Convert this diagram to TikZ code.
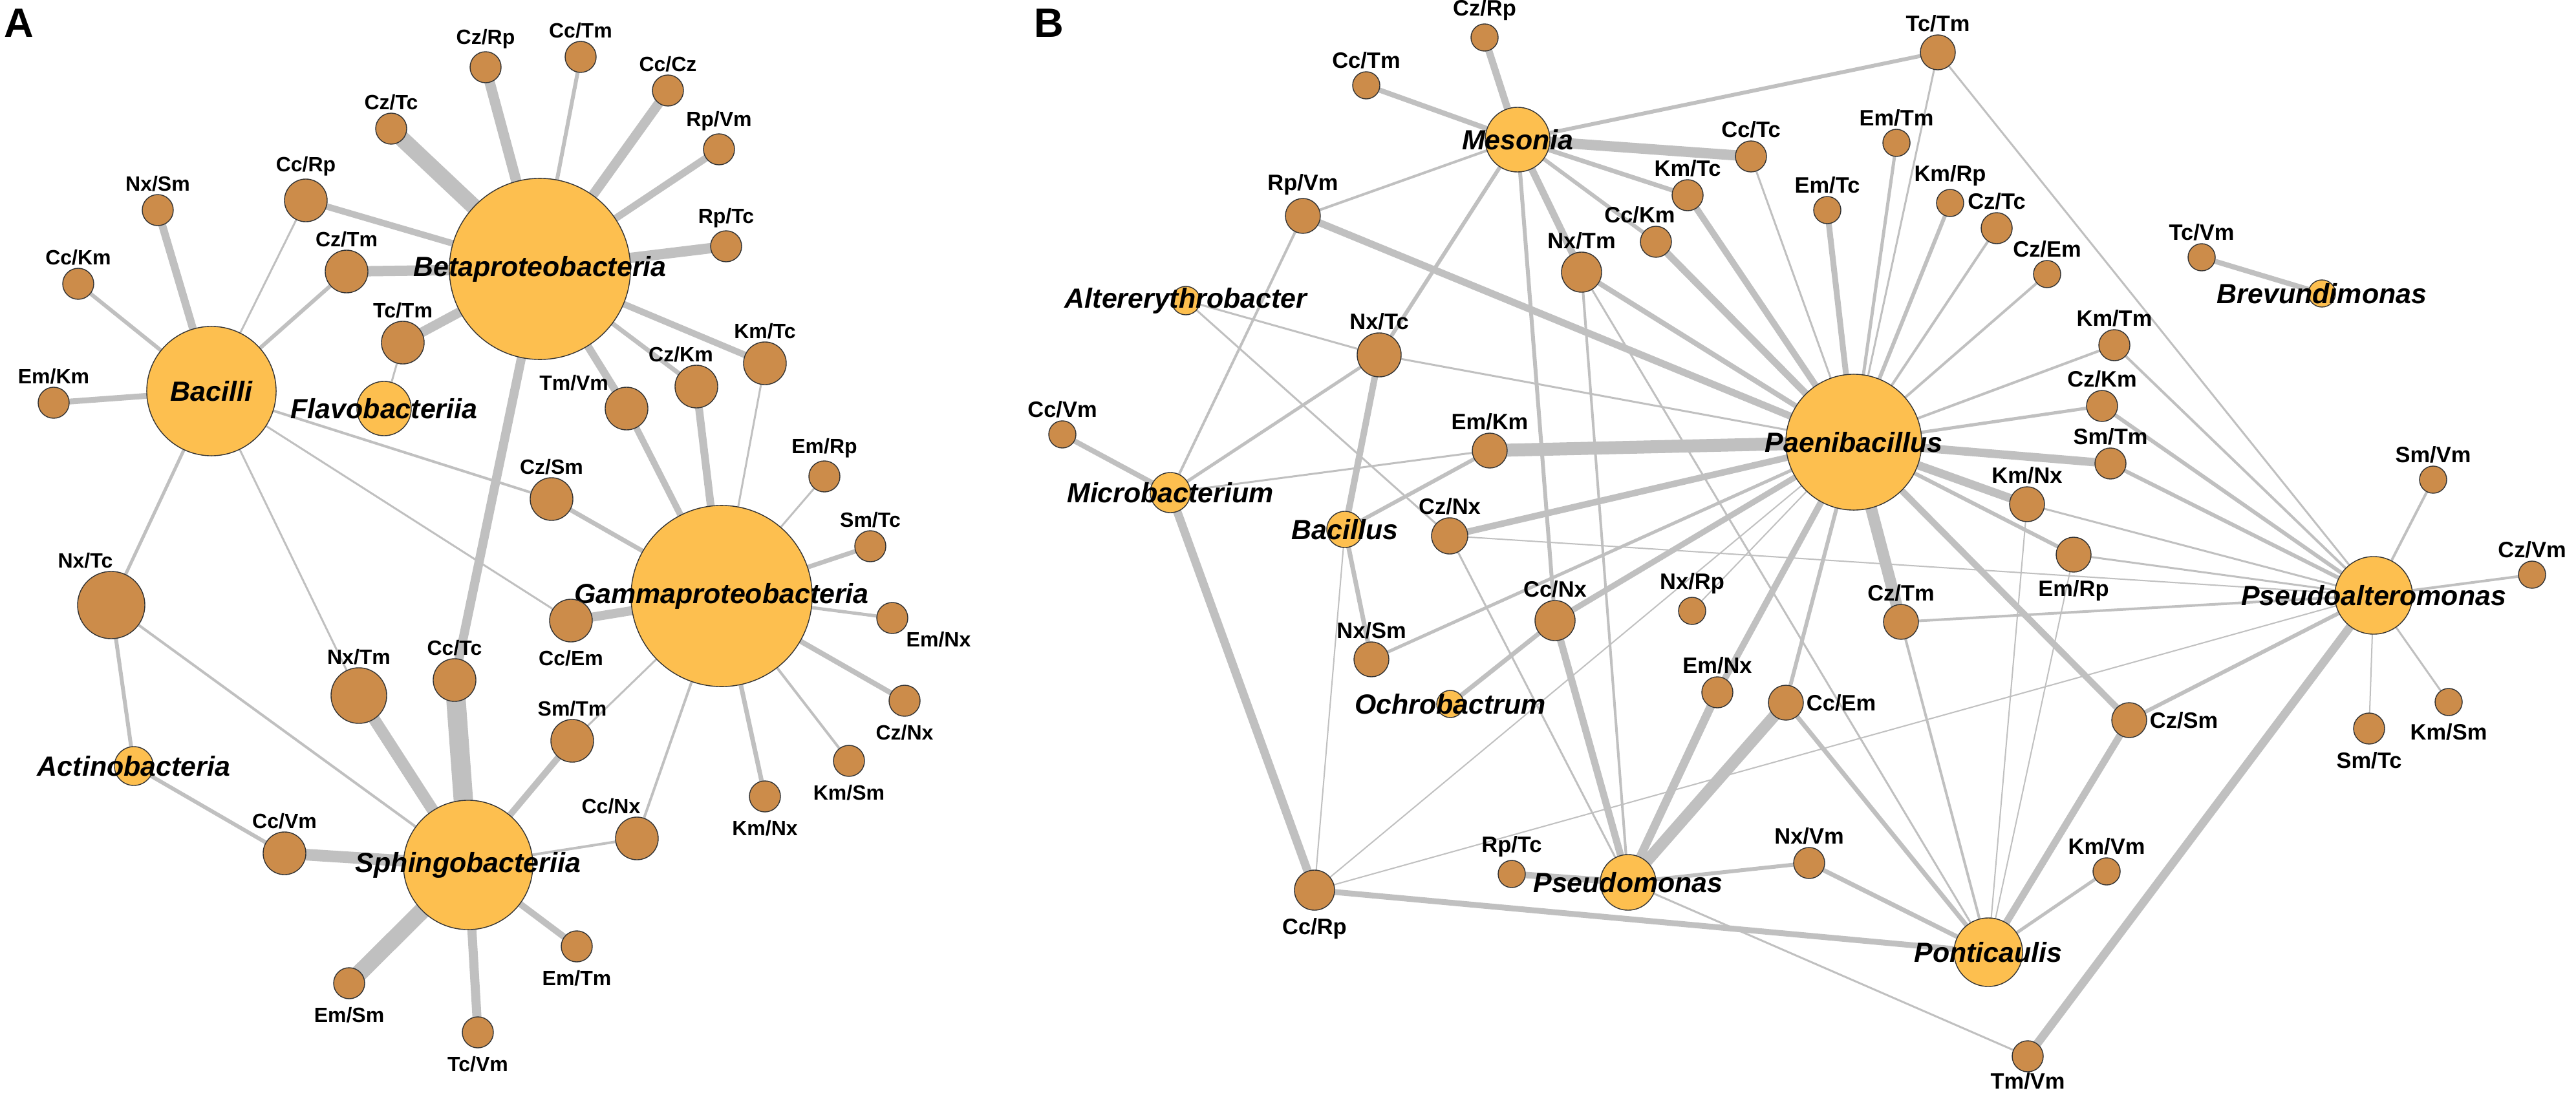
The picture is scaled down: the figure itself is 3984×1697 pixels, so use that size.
\documentclass[tikz,border=0pt]{standalone}
\usepackage{fontspec}
\setmainfont{Liberation Sans}
\usetikzlibrary{shapes,positioning}
\definecolor{taxfill}{RGB}{253,191,79}
\definecolor{pairfill}{RGB}{204,140,74}
\definecolor{linkgray}{RGB}{192,192,192}
\pgfdeclarelayer{edges}
\pgfsetlayers{edges,main}

\begin{document}
\begin{tikzpicture}[x=0.01cm,y=-0.01cm,
  tax/.style={circle,draw=black!80,line width=0.4pt,fill=taxfill,inner sep=0pt,minimum size=#1*0.2mm},
  pair/.style={circle,draw=black!80,line width=0.4pt,fill=pairfill,inner sep=0pt,minimum size=#1*0.2mm},
  tname/.style={font=\fontsize{12.2}{14}\selectfont\bfseries\itshape,inner sep=0pt},
  plA/.style={font=\fontsize{9.1}{11}\selectfont\bfseries,inner sep=1pt},
  plB/.style={font=\fontsize{9.8}{11}\selectfont\bfseries,inner sep=1pt},
  plAd/.style={plA,label distance=0.8mm},
  plBd/.style={plB,label distance=0.8mm},
  link/.style={draw=linkgray,line width=#1*0.1mm},
  panel/.style={font=\fontsize{18}{20}\selectfont\bfseries}]
  \useasboundingbox (0,0) rectangle (3984,1697);
  \node[panel] (lblA) at (29,36) {A};
  \node[panel] (lblB) at (1622,36) {B};

  \node[tax=140,label={[tname]center:Betaproteobacteria}] (aBeta) at (835,416) {};
  \node[tax=140,label={[tname]center:Gammaproteobacteria}] (aGamma) at (1116,922) {};
  \node[tax=100,label={[tname]center:Bacilli}] (aBacilli) at (327,605) {};
  \node[tax=100,label={[tname]center:Sphingobacteriia}] (aSphingo) at (724,1338) {};
  \node[tax=42,label={[tname]center:Flavobacteriia}] (aFlavo) at (594,632) {};
  \node[tax=30,label={[tname]center:Actinobacteria}] (aActino) at (207,1185) {};

  \node[pair=24,label={[plA]above:Cz/Rp}] (aCzRp) at (751,104) {};
  \node[pair=24,label={[plA]above:Cc/Tm}] (aCcTm) at (898,88) {};
  \node[pair=24,label={[plA]above:Cc/Cz}] (aCcCz) at (1033,140) {};
  \node[pair=24,label={[plA]above:Rp/Vm}] (aRpVm) at (1112,231) {};
  \node[pair=24,label={[plA]above:Rp/Tc}] (aRpTc) at (1123,381) {};
  \node[pair=24,label={[plA]above:Cz/Tc}] (aCzTc) at (605,199) {};
  \node[pair=33,label={[plA]above:Cc/Rp}] (aCcRp) at (473,310) {};
  \node[pair=24,label={[plA]above:Nx/Sm}] (aNxSm) at (244,325) {};
  \node[pair=24,label={[plA]above:Cc/Km}] (aCcKm) at (121,439) {};
  \node[pair=33,label={[plA]above:Cz/Tm}] (aCzTm) at (536,420) {};
  \node[pair=33,label={[plA]above:Tc/Tm}] (aTcTm) at (623,530) {};
  \node[pair=24,label={[plA]above:Em/Km}] (aEmKm) at (83,623) {};
  \node[pair=33,label={[plA]above left:Tm/Vm}] (aTmVm) at (969,632) {};
  \node[pair=33,label={[plA]above:Km/Tc}] (aKmTc) at (1183,562) {};
  \node[pair=33,label={[plA,xshift=-2.4mm]above:Cz/Km}] (aCzKm) at (1077,598) {};
  \node[pair=33,label={[plA]above:Cz/Sm}] (aCzSm) at (853,772) {};
  \node[pair=24,label={[plA]above:Em/Rp}] (aEmRp) at (1275,737) {};
  \node[pair=24,label={[plA]above:Sm/Tc}] (aSmTc) at (1346,845) {};
  \node[pair=52,label={[plA,xshift=-4mm]above:Nx/Tc}] (aNxTc) at (172,936) {};
  \node[pair=43,label={[plA]above:Nx/Tm}] (aNxTm) at (555,1076) {};
  \node[pair=33,label={[plA]above:Cc/Tc}] (aCcTc) at (703,1052) {};
  \node[pair=33,label={[plAd]below:Cc/Em}] (aCcEm) at (883,960) {};
  \node[pair=33,label={[plA]above:Sm/Tm}] (aSmTm) at (885,1146) {};
  \node[pair=33,label={[plA]above:Cc/Vm}] (aCcVm) at (440,1320) {};
  \node[pair=33,label={[plA,xshift=-4mm]above:Cc/Nx}] (aCcNx) at (985,1297) {};
  \node[pair=24,label={[plAd]below:Em/Sm}] (aEmSm) at (540,1521) {};
  \node[pair=24,label={[plAd]below:Tc/Vm}] (aTcVm) at (739,1597) {};
  \node[pair=24,label={[plAd]below:Em/Tm}] (aEmTm) at (892,1464) {};
  \node[pair=24,label={[plA]below right:Em/Nx}] (aEmNx) at (1380,956) {};
  \node[pair=24,label={[plAd]below:Cz/Nx}] (aCzNx) at (1399,1084) {};
  \node[pair=24,label={[plAd]below:Km/Sm}] (aKmSm) at (1313,1177) {};
  \node[pair=24,label={[plAd]below:Km/Nx}] (aKmNx) at (1183,1232) {};

  \node[tax=50,label={[tname]center:Mesonia}] (bMes) at (2347,216) {};
  \node[tax=105,label={[tname]center:Paenibacillus}] (bPae) at (2867,684) {};
  \node[tax=60,label={[tname]center:Pseudoalteromonas}] (bPsa) at (3671,921) {};
  \node[tax=53,label={[tname]center:Ponticaulis}] (bPon) at (3075,1473) {};
  \node[tax=43,label={[tname]center:Pseudomonas}] (bPsm) at (2518,1365) {};
  \node[tax=31,label={[tname]center:Microbacterium}] (bMic) at (1810,762) {};
  \node[tax=28,label={[tname]center:Bacillus}] (bBac) at (2080,819) {};
  \node[tax=22,label={[tname]center:Altererythrobacter}] (bAlt) at (1834,465) {};
  \node[tax=21,label={[tname]center:Ochrobactrum}] (bOch) at (2243,1089) {};
  \node[tax=21,label={[tname]center:Brevundimonas}] (bBre) at (3591,454) {};

  \node[pair=21,label={[plB]above:Cz/Rp}] (bCzRp) at (2296,58) {};
  \node[pair=21,label={[plB]above:Cc/Tm}] (bCcTm) at (2113,132) {};
  \node[pair=27,label={[plB]above:Rp/Vm}] (bRpVm) at (2015,334) {};
  \node[pair=34,label={[plB]above:Nx/Tc}] (bNxTc) at (2133,549) {};
  \node[pair=21,label={[plB]above:Cc/Vm}] (bCcVm) at (1643,672) {};
  \node[pair=27,label={[plB]above:Em/Km}] (bEmKm) at (2304,697) {};
  \node[pair=28,label={[plB]above:Cz/Nx}] (bCzNx) at (2242,829) {};
  \node[pair=27,label={[plB]above:Nx/Sm}] (bNxSm) at (2121,1020) {};
  \node[pair=31,label={[plB]above:Cc/Nx}] (bCcNx) at (2405,960) {};
  \node[pair=31,label={[plBd]below:Cc/Rp}] (bCcRp) at (2033,1377) {};
  \node[pair=21,label={[plB]above:Rp/Tc}] (bRpTc) at (2338,1352) {};
  \node[pair=27,label={[plB]above:Tc/Tm}] (bTcTm) at (2997,81) {};
  \node[pair=24,label={[plB]above:Cc/Tc}] (bCcTc) at (2708,242) {};
  \node[pair=24,label={[plB]above:Km/Tc}] (bKmTc) at (2610,302) {};
  \node[pair=21,label={[plB]above:Em/Tm}] (bEmTm) at (2933,221) {};
  \node[pair=21,label={[plB]above:Em/Tc}] (bEmTc) at (2826,325) {};
  \node[pair=21,label={[plB]above:Km/Rp}] (bKmRp) at (3016,314) {};
  \node[pair=24,label={[plB]above:Cz/Tc}] (bCzTc) at (3088,353) {};
  \node[pair=21,label={[plB]above:Cz/Em}] (bCzEm) at (3166,424) {};
  \node[pair=24,label={[plB,xshift=-2.5mm]above:Cc/Km}] (bCcKm) at (2561,374) {};
  \node[pair=31,label={[plB]above:Nx/Tm}] (bNxTm) at (2446,421) {};
  \node[pair=27,label={[plB]above:Km/Nx}] (bKmNx) at (3135,780) {};
  \node[pair=21,label={[plB]above:Tc/Vm}] (bTcVm) at (3405,398) {};
  \node[pair=24,label={[plB]above:Km/Tm}] (bKmTm) at (3270,534) {};
  \node[pair=24,label={[plB]above:Cz/Km}] (bCzKm) at (3251,628) {};
  \node[pair=24,label={[plB]above:Sm/Tm}] (bSmTm) at (3264,717) {};
  \node[pair=21,label={[plB]above:Sm/Vm}] (bSmVm) at (3763,742) {};
  \node[pair=27,label={[plBd]below:Em/Rp}] (bEmRp) at (3207,858) {};
  \node[pair=21,label={[plB]above:Nx/Rp}] (bNxRp) at (2617,945) {};
  \node[pair=27,label={[plB]above:Cz/Tm}] (bCzTm) at (2940,962) {};
  \node[pair=24,label={[plB]above:Em/Nx}] (bEmNx) at (2656,1071) {};
  \node[pair=27,label={[plB]right:Cc/Em}] (bCcEm) at (2762,1087) {};
  \node[pair=24,label={[plB]above:Nx/Vm}] (bNxVm) at (2798,1335) {};
  \node[pair=24,label={[plB,label distance=-0.3mm]below:Tm/Vm}] (bTmVm) at (3136,1634) {};
  \node[pair=21,label={[plB]above:Km/Vm}] (bKmVm) at (3258,1348) {};
  \node[pair=21,label={[plB]above:Cz/Vm}] (bCzVm) at (3916,889) {};
  \node[pair=27,label={[plB]right:Cz/Sm}] (bCzSm) at (3293,1114) {};
  \node[pair=24,label={[plBd]below:Sm/Tc}] (bSmTc) at (3664,1127) {};
  \node[pair=21,label={[plBd]below:Km/Sm}] (bKmSm) at (3787,1086) {};

  \begin{pgfonlayer}{edges}
  \fill[white] (0,0) rectangle (3984,1697);
  \draw[link=16] (aBeta.center) -- (aCzRp.center);
  \draw[link=6] (aBeta.center) -- (aCcTm.center);
  \draw[link=15] (aBeta.center) -- (aCcCz.center);
  \draw[link=11] (aBeta.center) -- (aRpVm.center);
  \draw[link=16] (aBeta.center) -- (aRpTc.center);
  \draw[link=25] (aBeta.center) -- (aCzTc.center);
  \draw[link=10] (aBeta.center) -- (aCcRp.center);
  \draw[link=16] (aBeta.center) -- (aCzTm.center);
  \draw[link=15] (aBeta.center) -- (aTcTm.center);
  \draw[link=10] (aBeta.center) -- (aKmTc.center);
  \draw[link=7] (aBeta.center) -- (aCzKm.center);
  \draw[link=12] (aBeta.center) -- (aTmVm.center);
  \draw[link=14] (aBeta.center) -- (aCcTc.center);
  \draw[link=12] (aBacilli.center) -- (aNxSm.center);
  \draw[link=6] (aBacilli.center) -- (aCcKm.center);
  \draw[link=9] (aBacilli.center) -- (aEmKm.center);
  \draw[link=3] (aBacilli.center) -- (aCcRp.center);
  \draw[link=6] (aBacilli.center) -- (aCzTm.center);
  \draw[link=4] (aBacilli.center) -- (aCzSm.center);
  \draw[link=3] (aBacilli.center) -- (aCcEm.center);
  \draw[link=3] (aBacilli.center) -- (aNxTm.center);
  \draw[link=5] (aBacilli.center) -- (aNxTc.center);
  \draw[link=3] (aFlavo.center) -- (aTcTm.center);
  \draw[link=6] (aActino.center) -- (aNxTc.center);
  \draw[link=6] (aActino.center) -- (aCcVm.center);
  \draw[link=4] (aSphingo.center) -- (aNxTc.center);
  \draw[link=18] (aSphingo.center) -- (aCcVm.center);
  \draw[link=18] (aSphingo.center) -- (aNxTm.center);
  \draw[link=30] (aSphingo.center) -- (aCcTc.center);
  \draw[link=10] (aSphingo.center) -- (aSmTm.center);
  \draw[link=4] (aSphingo.center) -- (aCcNx.center);
  \draw[link=26] (aSphingo.center) -- (aEmSm.center);
  \draw[link=14] (aSphingo.center) -- (aTcVm.center);
  \draw[link=10] (aSphingo.center) -- (aEmTm.center);
  \draw[link=7] (aGamma.center) -- (aCzSm.center);
  \draw[link=14] (aGamma.center) -- (aCcEm.center);
  \draw[link=10] (aGamma.center) -- (aTmVm.center);
  \draw[link=12] (aGamma.center) -- (aCzKm.center);
  \draw[link=3] (aGamma.center) -- (aKmTc.center);
  \draw[link=3] (aGamma.center) -- (aEmRp.center);
  \draw[link=7] (aGamma.center) -- (aSmTc.center);
  \draw[link=5] (aGamma.center) -- (aEmNx.center);
  \draw[link=8] (aGamma.center) -- (aCzNx.center);
  \draw[link=4] (aGamma.center) -- (aKmSm.center);
  \draw[link=7] (aGamma.center) -- (aKmNx.center);
  \draw[link=4] (aGamma.center) -- (aCcNx.center);
  \draw[link=3] (aGamma.center) -- (aSmTm.center);

  \draw[link=11] (bMes.center) -- (bCzRp.center);
  \draw[link=8] (bMes.center) -- (bCcTm.center);
  \draw[link=4] (bMes.center) -- (bRpVm.center);
  \draw[link=6] (bMes.center) -- (bNxTc.center);
  \draw[link=6] (bMes.center) -- (bCcNx.center);
  \draw[link=11] (bMes.center) -- (bNxTm.center);
  \draw[link=6] (bMes.center) -- (bTcTm.center);
  \draw[link=16] (bMes.center) -- (bCcTc.center);
  \draw[link=7] (bMes.center) -- (bKmTc.center);
  \draw[link=6] (bMes.center) -- (bCcKm.center);
  \draw[link=11] (bPae.center) -- (bRpVm.center);
  \draw[link=3] (bPae.center) -- (bNxTc.center);
  \draw[link=20] (bPae.center) -- (bEmKm.center);
  \draw[link=10] (bPae.center) -- (bCzNx.center);
  \draw[link=5] (bPae.center) -- (bNxSm.center);
  \draw[link=9] (bPae.center) -- (bCcNx.center);
  \draw[link=2] (bPae.center) -- (bCcRp.center);
  \draw[link=10] (bPae.center) -- (bEmNx.center);
  \draw[link=6] (bPae.center) -- (bCcEm.center);
  \draw[link=18] (bPae.center) -- (bCzTm.center);
  \draw[link=6] (bPae.center) -- (bEmRp.center);
  \draw[link=13] (bPae.center) -- (bKmNx.center);
  \draw[link=13] (bPae.center) -- (bSmTm.center);
  \draw[link=5] (bPae.center) -- (bCzKm.center);
  \draw[link=4] (bPae.center) -- (bKmTm.center);
  \draw[link=3] (bPae.center) -- (bTcTm.center);
  \draw[link=5] (bPae.center) -- (bEmTm.center);
  \draw[link=9] (bPae.center) -- (bEmTc.center);
  \draw[link=6] (bPae.center) -- (bKmRp.center);
  \draw[link=4] (bPae.center) -- (bCzTc.center);
  \draw[link=4] (bPae.center) -- (bCzEm.center);
  \draw[link=3] (bPae.center) -- (bCcTc.center);
  \draw[link=10] (bPae.center) -- (bKmTc.center);
  \draw[link=11] (bPae.center) -- (bCcKm.center);
  \draw[link=8] (bPae.center) -- (bNxTm.center);
  \draw[link=10] (bPae.center) -- (bCzSm.center);
  \draw[link=2] (bPae.center) -- (bNxRp.center);
  \draw[link=3] (bAlt.center) -- (bNxTc.center);
  \draw[link=3] (bAlt.center) -- (bCzNx.center);
  \draw[link=8] (bMic.center) -- (bCcVm.center);
  \draw[link=4] (bMic.center) -- (bRpVm.center);
  \draw[link=5] (bMic.center) -- (bNxTc.center);
  \draw[link=3] (bMic.center) -- (bEmKm.center);
  \draw[link=13] (bMic.center) -- (bCcRp.center);
  \draw[link=10] (bBac.center) -- (bNxTc.center);
  \draw[link=6] (bBac.center) -- (bEmKm.center);
  \draw[link=7] (bBac.center) -- (bNxSm.center);
  \draw[link=2] (bBac.center) -- (bCcRp.center);
  \draw[link=7] (bOch.center) -- (bCcNx.center);
  \draw[link=11] (bPsm.center) -- (bCcNx.center);
  \draw[link=3] (bPsm.center) -- (bCzNx.center);
  \draw[link=4] (bPsm.center) -- (bNxTm.center);
  \draw[link=13] (bPsm.center) -- (bEmNx.center);
  \draw[link=18] (bPsm.center) -- (bCcEm.center);
  \draw[link=10] (bPsm.center) -- (bRpTc.center);
  \draw[link=6] (bPsm.center) -- (bNxVm.center);
  \draw[link=3] (bPsm.center) -- (bTmVm.center);
  \draw[link=9] (bPon.center) -- (bCcRp.center);
  \draw[link=7] (bPon.center) -- (bNxVm.center);
  \draw[link=7] (bPon.center) -- (bCcEm.center);
  \draw[link=3] (bPon.center) -- (bNxTm.center);
  \draw[link=4] (bPon.center) -- (bCzTm.center);
  \draw[link=2] (bPon.center) -- (bEmRp.center);
  \draw[link=2] (bPon.center) -- (bKmNx.center);
  \draw[link=11] (bPon.center) -- (bCzSm.center);
  \draw[link=5] (bPon.center) -- (bKmVm.center);
  \draw[link=3] (bPsa.center) -- (bTcTm.center);
  \draw[link=4] (bPsa.center) -- (bKmTm.center);
  \draw[link=6] (bPsa.center) -- (bCzKm.center);
  \draw[link=6] (bPsa.center) -- (bSmTm.center);
  \draw[link=3] (bPsa.center) -- (bKmNx.center);
  \draw[link=3] (bPsa.center) -- (bEmRp.center);
  \draw[link=2] (bPsa.center) -- (bCzNx.center);
  \draw[link=4] (bPsa.center) -- (bCzTm.center);
  \draw[link=2] (bPsa.center) -- (bCcRp.center);
  \draw[link=6] (bPsa.center) -- (bCzSm.center);
  \draw[link=13] (bPsa.center) -- (bTmVm.center);
  \draw[link=4] (bPsa.center) -- (bSmVm.center);
  \draw[link=4] (bPsa.center) -- (bCzVm.center);
  \draw[link=2] (bPsa.center) -- (bSmTc.center);
  \draw[link=3] (bPsa.center) -- (bKmSm.center);
  \draw[link=8] (bBre.center) -- (bTcVm.center);
  \end{pgfonlayer}
\end{tikzpicture}
\end{document}
